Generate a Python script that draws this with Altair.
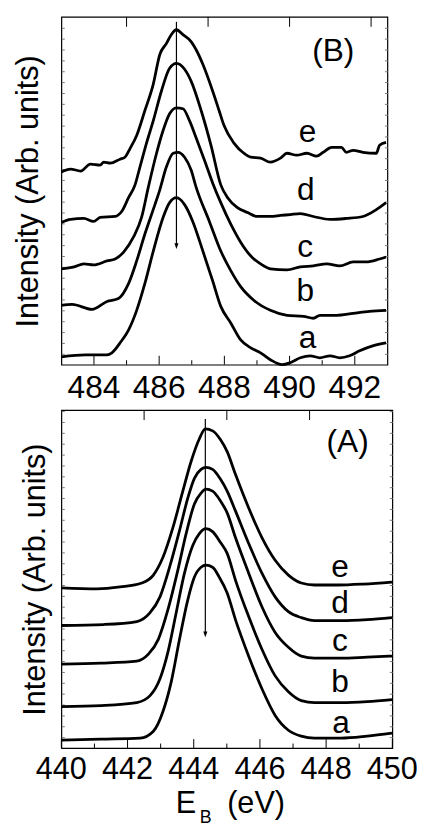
import altair as alt
import pandas as pd

FONT = "Liberation Sans"

# ---------------- Panel (B) : 483-493 eV ----------------
B_names = ["e", "d", "c", "b", "a"]
Be_x = [483.00,483.28,483.59,483.89,484.19,484.30,484.50,484.80,484.95,485.11,485.31,485.56,485.82,486.02,486.22,486.37,486.53,486.73,486.98,487.13,487.34,487.64,487.84,487.99,488.30,488.60,488.81,489.11,489.41,489.72,489.92,490.22,490.53,490.83,491.03,491.29,491.59,491.74,491.95,492.25,492.66,492.76,492.96]
Be_y = [195,198,196,203,202,205,204,208,210,219,232,257,284,314,325,334,339,334,327,319,304,277,257,242,224,214,210,209,205,209,214,212,214,211,215,220,220,215,217,215,214,222,225]
Bd_x = [483.00,483.28,483.69,483.99,484.19,484.65,484.85,485.06,485.26,485.41,485.61,485.82,486.07,486.32,486.53,486.78,486.98,487.29,487.59,487.89,488.10,488.40,488.71,489.01,489.41,489.72,490.02,490.33,490.73,491.24,491.74,492.25,492.66,492.96]
Bd_y = [144,147,148,145,149,150,155,169,182,200,224,247,277,300,305,299,287,257,222,182,169,159,154,150,150,151,152,153,150,147,148,150,157,164]
Bc_x = [483.00,483.39,483.69,483.99,484.40,484.65,484.91,485.21,485.46,485.67,485.92,486.12,486.32,486.53,486.73,486.93,487.13,487.39,487.64,487.89,488.20,488.50,488.81,489.11,489.41,489.92,490.33,490.73,491.14,491.54,491.95,492.35,492.76,492.96]
Bc_y = [97,99,102,101,105,107,114,129,149,180,214,237,254,260,259,247,230,207,184,164,142,124,110,102,97,96,99,100,102,100,104,104,107,109]
Bb_x = [483.00,483.33,483.94,484.40,484.75,485.06,485.31,485.56,485.87,486.02,486.22,486.43,486.58,486.78,486.98,487.13,487.54,487.89,488.20,488.50,488.91,489.41,489.92,490.43,490.73,490.93,491.44,491.95,492.45,492.96]
Bb_y = [60,61,56,64,67,82,105,132,162,177,200,214,215,210,197,180,145,115,95,79,65,55,50,49,47,50,50,52,54,55]
Ba_x = [483.00,483.74,484.40,484.55,484.80,485.06,485.31,485.56,485.82,486.12,486.32,486.53,486.78,487.03,487.34,487.64,487.89,488.20,488.50,488.81,489.11,489.41,489.77,490.02,490.33,490.63,490.93,491.24,491.54,491.84,492.15,492.55,492.96]
Ba_y = [8,10,10,12,22,35,55,82,115,149,164,169,162,145,115,85,59,42,25,17,12,5,0,2,7,9,7,9,7,9,14,19,22]

B_domain = [483, 493]
B_major = [484, 486, 488, 490, 492]
B_major_labels = ["484", "486", "488", "490", "492"]
B_minor = [485, 487, 489, 491]
B_top = [485, 487.5, 490, 492.5]
B_label_x = [490.55, 490.5, 490.48, 490.48, 490.55]
B_label_y = [225, 167, 109, 64, 17]
B_arrow = (486.53, 347, 122, 120)
B_tag = ("(B)", 491.34, 317)

# ---------------- Panel (A) : 440-450 eV ----------------
Ae_x = [440.00,441.08,441.78,442.43,442.78,443.07,443.37,443.67,443.92,444.17,444.35,444.57,444.81,445.01,445.26,445.66,446.06,446.46,446.86,447.25,447.65,448.35,449.14,449.99]
Ae_y = [162,161,163,167,175,193,223,260,290,313,323,321,312,300,277,243,213,190,175,167,165,165,166,168]
Ad_x = [440.00,441.28,442.28,442.68,442.98,443.27,443.57,443.82,444.02,444.22,444.37,444.57,444.81,445.01,445.26,445.66,446.06,446.46,446.86,447.25,447.65,448.45,449.24,449.99]
Ad_y = [124,125,128,137,153,183,220,253,273,282,284,282,272,260,240,207,177,153,138,132,129,129,130,132]
Ac_x = [440.00,441.20,442.28,442.63,442.93,443.22,443.52,443.77,444.02,444.22,444.37,444.57,444.81,445.01,445.26,445.66,446.06,446.46,446.86,447.25,447.65,448.45,449.24,449.99]
Ac_y = [85,86,88,95,110,140,180,217,247,258,262,260,250,238,213,177,143,117,102,93,91,91,92,93]
Ab_x = [440.00,441.20,442.28,442.68,442.98,443.22,443.47,443.72,443.97,444.17,444.37,444.57,444.81,445.01,445.26,445.66,446.06,446.46,446.86,447.25,447.65,448.45,449.24,449.99]
Ab_y = [42,43,46,53,70,97,137,177,205,217,222,219,208,197,170,133,100,73,57,48,46,46,47,49]
Aa_x = [440.00,441.20,442.38,442.78,443.07,443.32,443.57,443.82,444.02,444.22,444.37,444.57,444.77,445.01,445.26,445.66,446.06,446.46,446.86,447.25,447.65,448.45,449.24,449.99]
Aa_y = [8,9,10,17,37,67,110,150,173,183,185,183,173,157,130,93,60,33,18,12,10,10,12,15]

A_domain = [440, 450]
A_major = [440, 442, 444, 446, 448, 450]
A_major_labels = ["440", "442", "444", "446", "448", "450"]
A_minor = [441, 443, 445, 447, 449]
A_top = [442.5, 445, 447.5]
A_label_x = [448.42, 448.42, 448.42, 448.42, 448.45]
A_label_y = [173, 137, 98, 57, 15]
A_arrow = (444.35, 333, 117, 115)
A_tag = ("(A)", 448.65, 310)
A_xtitle_big = ["E", "(eV)"]
A_xtitle_big_x = [443.46, 445.01]
A_xtitle_small = ["B"]
A_xtitle_small_x = [444.18]

Y_TITLE = "Intensity (Arb. units)"
HEAD = "M-0.7,-1L0.7,-1L0,1Z"
TXT = 32


def make_panel(curves, names, xdom, W, H, major, major_labels, minor, top,
               lab_x, lab_y, arrow, tag, title_pad, tick_base, interp,
               tick_fs, xtitle=None):
    rows = []
    for n, (xs, ys) in zip(names, curves):
        for x, y in zip(xs, ys):
            rows.append({"E": x, "I": y, "s": n})
    df = pd.DataFrame(rows)
    xs_ = alt.Scale(domain=xdom, nice=False, zero=False)
    ys_ = alt.Scale(domain=[0, H], nice=False, zero=False)
    yt = list(range(11, H, 11))

    lines = alt.Chart(df).mark_line(
        color="black", strokeWidth=2.8, interpolate=interp, strokeJoin="round"
    ).encode(
        x=alt.X("E:Q", scale=xs_, axis=None),
        y=alt.Y("I:Q", scale=ys_, axis=alt.Axis(
            orient="left", values=yt, labels=False, ticks=True, tickSize=3,
            tickColor="#777", offset=-3, domain=False, grid=False,
            title=Y_TITLE, titleFontSize=31, titleFont=FONT,
            titleFontWeight="normal", titleColor="black",
            titlePadding=title_pad)),
        detail="s:N",
    )

    def tick_layer(vals, y0, y1):
        return alt.Chart(pd.DataFrame({"E": vals})).mark_rule(
            color="black", strokeWidth=1
        ).encode(x=alt.X("E:Q", axis=None, scale=xs_),
                 y=alt.value(y0), y2=alt.value(y1))

    t_major = tick_layer(major, H - 9, H)
    t_minor = tick_layer(minor, H - 4.5, H)
    t_top = tick_layer(top, 0, 10)

    tick_text = alt.Chart(pd.DataFrame({"E": major, "t": major_labels})).mark_text(
        fontSize=tick_fs, font=FONT, align="center", baseline="alphabetic", color="black"
    ).encode(x=alt.X("E:Q", axis=None), y=alt.value(H + tick_base), text="t:N")

    ax, ay1, ay2, ahead = arrow
    arrow_line = alt.Chart(pd.DataFrame({"E": [ax], "I": [ay1], "I2": [ay2]})).mark_rule(
        color="black", strokeWidth=1.2
    ).encode(x=alt.X("E:Q", axis=None), y=alt.Y("I:Q", axis=None), y2="I2:Q")
    arrow_head = alt.Chart(pd.DataFrame({"E": [ax], "I": [ahead]})).mark_point(
        shape=HEAD, filled=True, size=36, color="black", opacity=1, strokeWidth=0
    ).encode(x=alt.X("E:Q", axis=None), y=alt.Y("I:Q", axis=None))

    letters = alt.Chart(pd.DataFrame({"E": lab_x, "I": lab_y, "t": names})).mark_text(
        fontSize=TXT, font=FONT, align="center", baseline="alphabetic", color="black"
    ).encode(
        x=alt.X("E:Q", axis=None),
        y=alt.Y("I:Q", axis=alt.Axis(
            orient="right", values=yt, labels=False, ticks=True, tickSize=3,
            tickColor="#777", offset=-3, domain=False, grid=False, title=None)),
        text="t:N",
    )

    tag_t, tag_x, tag_y = tag
    tag_layer = alt.Chart(pd.DataFrame({"E": [tag_x], "I": [tag_y], "t": [tag_t]})).mark_text(
        fontSize=TXT, font=FONT, align="center", baseline="middle", color="black"
    ).encode(x=alt.X("E:Q", axis=None), y=alt.Y("I:Q", axis=None), text="t:N")

    layers = [lines, t_major, t_minor, t_top, tick_text, arrow_line, arrow_head,
              letters, tag_layer]

    if xtitle is not None:
        big_t, big_x, small_t, small_x = xtitle
        big = alt.Chart(pd.DataFrame({"E": big_x, "t": big_t})).mark_text(
            fontSize=31, font=FONT, align="left", baseline="alphabetic", color="black"
        ).encode(x=alt.X("E:Q", axis=None), y=alt.value(H + 66), text="t:N")
        small = alt.Chart(pd.DataFrame({"E": small_x, "t": small_t})).mark_text(
            fontSize=18, font=FONT, align="left", baseline="alphabetic", color="black"
        ).encode(x=alt.X("E:Q", axis=None), y=alt.value(H + 76), text="t:N")
        layers += [big, small]

    return alt.layer(*layers).resolve_axis(y="independent").properties(width=W, height=H)


panelB = make_panel(
    [(Be_x, Be_y), (Bd_x, Bd_y), (Bc_x, Bc_y), (Bb_x, Bb_y), (Ba_x, Ba_y)],
    B_names, B_domain, 330, 352, B_major, B_major_labels, B_minor, B_top,
    B_label_x, B_label_y, B_arrow, B_tag, title_pad=17, tick_base=34,
    interp="monotone", tick_fs=32)

panelA = make_panel(
    [(Ae_x, Ae_y), (Ad_x, Ad_y), (Ac_x, Ac_y), (Ab_x, Ab_y), (Aa_x, Aa_y)],
    B_names, A_domain, 335, 342, A_major, A_major_labels, A_minor, A_top,
    A_label_x, A_label_y, A_arrow, A_tag, title_pad=10, tick_base=31,
    interp="monotone", tick_fs=31,
    xtitle=(A_xtitle_big, A_xtitle_big_x, A_xtitle_small, A_xtitle_small_x))

chart = alt.vconcat(panelB, panelA, spacing=46, bounds="flush").properties(
    padding={"left": 3, "top": 2, "right": 0, "bottom": 0}
).configure(font=FONT).configure_view(stroke="black", strokeWidth=1.2)

chart.save("out.html", embed_options={"renderer": "svg", "actions": False})
